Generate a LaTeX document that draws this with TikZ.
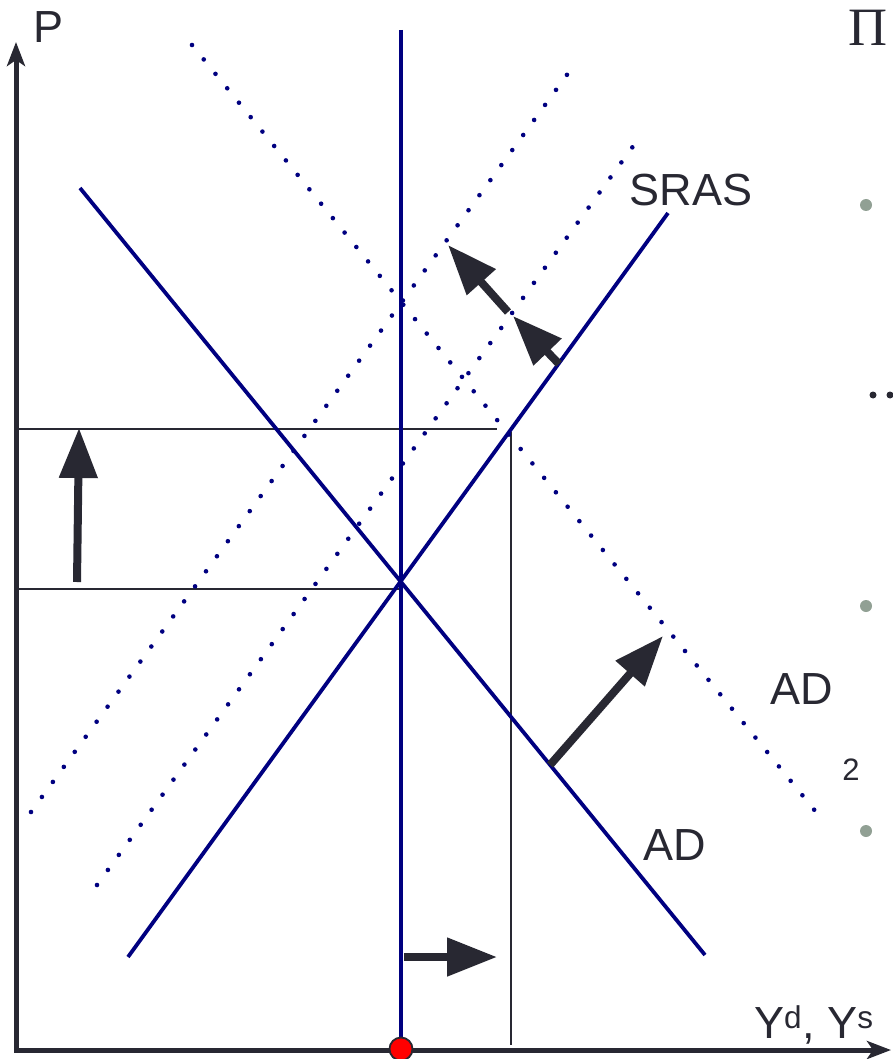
\documentclass[tikz,border=0pt]{standalone}
\usepackage{fontspec}
\setmainfont{Liberation Sans}
\newfontfamily\serifcyr{Liberation Serif}
\usetikzlibrary{arrows.meta}
\definecolor{navy}{RGB}{0,0,128}
\definecolor{ink}{RGB}{40,40,50}
\definecolor{bulletgrey}{RGB}{145,160,148}
\tikzset{
  curve/.style={draw=navy,line width=3.8pt},
  dotcurve/.style={draw=navy,line width=4.6pt,line cap=round,dash pattern=on 0pt off 18.6pt},
  guide/.style={draw=ink,line width=2.2pt},
  axis/.style={draw=ink,line width=5pt,-{Stealth[length=24pt,width=18pt,inset=6pt]}},
  bigarrow/.style={draw=ink,line width=8pt,-{Triangle[length=50pt,width=37pt]}},
  lbl/.style={text=ink,font=\fontsize{45}{54}\selectfont,inner sep=0pt},
  bul/.style={circle,fill=bulletgrey,minimum size=12pt,inner sep=0pt},
}
\begin{document}
\begin{tikzpicture}[x=1pt,y=-1pt]
\useasboundingbox (0,0) rectangle (892,1059);
% coordinates
\coordinate (yaxB) at (16,1052);
\coordinate (yaxT) at (16,42);
\coordinate (xaxL) at (14,1050);
\coordinate (xaxR) at (891,1050);
\coordinate (vT) at (401,30);
\coordinate (vB) at (401,1047);
\coordinate (adA) at (80,188);
\coordinate (adB) at (705,955);
\coordinate (srA) at (128,957);
\coordinate (srB) at (668,213);
\coordinate (d1A) at (31,812);
\coordinate (d1B) at (569,72);
\coordinate (d2A) at (97,885);
\coordinate (d2B) at (634,145);
\coordinate (d3A) at (192,45);
\coordinate (d3B) at (816,812);
\coordinate (h1A) at (18,429);
\coordinate (h1B) at (497,429);
\coordinate (h2A) at (18,589);
\coordinate (h2B) at (400,589);
\coordinate (tvT) at (511,432);
\coordinate (tvB) at (511,1045);
\coordinate (a1A) at (77,582);
\coordinate (a1B) at (79,428);
\coordinate (a2A) at (404,957);
\coordinate (a2B) at (497,957);
\coordinate (a3A) at (550,765);
\coordinate (a3B) at (663,636);
\coordinate (a4A) at (559,364);
\coordinate (a4B) at (513,316);
\coordinate (a5A) at (508,312);
\coordinate (a5B) at (448,245);
% thin guides
\draw[guide] (h1A) -- (h1B);
\draw[guide] (h2A) -- (h2B);
\draw[ink,line width=1.6pt] (tvT) -- (tvB);
% dotted shifted curves
\draw[dotcurve] (d1A) -- (d1B);
\draw[dotcurve] (d2A) -- (d2B);
\draw[dotcurve] (d3A) -- (d3B);
% solid curves
\draw[curve] (adA) -- (adB);
\draw[curve] (srA) -- (srB);
\draw[curve] (vT) -- (vB);
% axes
\draw[axis] (yaxB) -- (yaxT);
\draw[axis] (xaxL) -- (xaxR);
% arrows
\draw[bigarrow] (a1A) -- (a1B);
\draw[bigarrow] (a2A) -- (a2B);
\draw[bigarrow] (a3A) -- (a3B);
\draw[bigarrow] (a4A) -- (a4B);
\draw[bigarrow] (a5A) -- (a5B);
% red point
\node[circle,fill=red,draw=ink,line width=1.8pt,minimum size=23pt,inner sep=0pt] (o) at (401,1049) {};
% labels
\node[lbl] (P) at (49,27) {P};
\node[lbl] (sras) at (691,190) {SRAS};
\node[lbl] (ad2) at (802,689) {AD};
\node[lbl,font=\fontsize{31}{34}\selectfont] (two) at (851,770) {2};
\node[lbl] (ad1) at (675,845) {AD};
\node[lbl,anchor=base west] (yy) at (754,1038) {Y\textsuperscript{d}, Y\textsuperscript{s}};
% cut-off slide text on the right
\node[text=ink,font=\serifcyr\fontsize{54}{56}\selectfont,inner sep=0pt,anchor=base west] (pe) at (848,46) {П};
\node[bul] (b1) at (866,205) {};
\node[bul] (b2) at (866,606) {};
\node[bul] (b3) at (866,831) {};
\node[circle,fill=ink,minimum size=7pt,inner sep=0pt] (e1) at (873,395) {};
\node[circle,fill=ink,minimum size=7pt,inner sep=0pt] (e2) at (890,395) {};
\end{tikzpicture}
\end{document}
